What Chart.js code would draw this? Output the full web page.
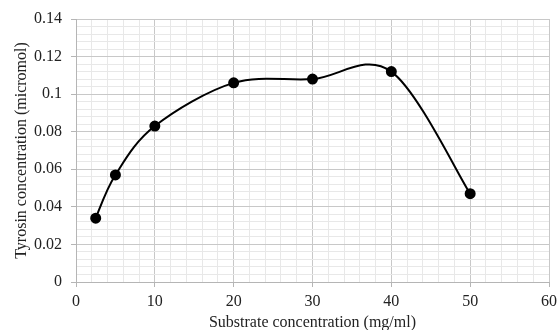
<!DOCTYPE html>
<html>
<head>
<meta charset="utf-8">
<script src="https://cdn.jsdelivr.net/npm/chart.js@4"></script>
<style>
  html, body { margin: 0; padding: 0; background: #fff; }
  #wrap { width: 559px; height: 330px; position: relative; }
</style>
</head>
<body>
<div id="wrap"><canvas id="grafico"></canvas></div>
<script>
// substrate (mg/ml) vs tyrosin (micromol)
const substrato = [2.5, 5, 10, 20, 30, 40, 50];
const tirosina = [0.034, 0.057, 0.083, 0.106, 0.108, 0.112, 0.047];

const pontos = substrato.map((x, i) => ({ x: x, y: tirosina[i] }));

const ehMaior = (v, passo) => Math.abs(v / passo - Math.round(v / passo)) < 1e-6;

const fonte = { family: '"Liberation Serif", "Times New Roman", serif', size: 16 };

// suavizacao parecida com a do excel (catmull-rom uniforme)
const suaviza = {
  id: 'suaviza',
  afterDatasetsUpdate(chart) {
    chart.getSortedVisibleDatasetMetas().forEach(meta => {
      const pts = meta.data;
      const n = pts.length;
      for (let i = 0; i < n; i++) {
        const p = pts[i];
        const ant = pts[Math.max(i - 1, 0)];
        const prox = pts[Math.min(i + 1, n - 1)];
        const tx = (prox.x - ant.x) / 6;
        const ty = (prox.y - ant.y) / 6;
        p.cp1x = p.x - tx; p.cp1y = p.y - ty;
        p.cp2x = p.x + tx; p.cp2y = p.y + ty;
      }
      meta.dataset._pointsUpdated = true;
    });
  }
};

const grafico = new Chart(document.getElementById('grafico'), {
  type: 'scatter',
  data: {
    datasets: [{
      label: 'Tyrosin',
      data: pontos,
      showLine: true,
      borderColor: '#000',
      backgroundColor: '#000',
      borderWidth: 2,
      pointRadius: 4.5,
      tension: 0.5
    }]
  },
  plugins: [suaviza],
  options: {
    responsive: true,
    maintainAspectRatio: false,
    animation: false,
    layout: { padding: { left: 0, top: 19, right: 10, bottom: 0 } },
    plugins: { legend: { display: false }, tooltip: { enabled: false } },
    scales: {
      x: {
        type: 'linear',
        min: 0, max: 60,
        afterFit: s => { s.height = 48; s.paddingLeft = 0; s.paddingRight = 0; },
        ticks: {
          stepSize: 2, autoSkip: false, maxRotation: 0, color: '#222', font: fonte, padding: 5,
          callback: v => ehMaior(v, 10) ? v : ''
        },
        grid: {
          color: c => ehMaior(c.tick.value, 10) ? '#c8c8c8' : '#e8e8e8',
          tickColor: c => ehMaior(c.tick.value, 10) ? '#b5b5b5' : 'rgba(0,0,0,0)',
          tickLength: 5
        },
        border: { color: '#b5b5b5' },
        title: { display: true, text: 'Substrate concentration (mg/ml)', color: '#222', font: fonte, padding: { top: 2, bottom: -2 } }
      },
      y: {
        min: 0, max: 0.14,
        afterFit: s => { s.width = 76; },
        ticks: {
          stepSize: 0.004, autoSkip: false, color: '#222', font: fonte, padding: 9,
          callback: v => ehMaior(v, 0.02) ? String(Math.round(v * 100) / 100) : ''
        },
        grid: {
          color: c => ehMaior(c.tick.value, 0.02) ? '#c8c8c8' : '#e8e8e8',
          tickColor: c => ehMaior(c.tick.value, 0.02) ? '#b5b5b5' : 'rgba(0,0,0,0)',
          tickLength: 5
        },
        border: { color: '#b5b5b5' },
        title: { display: true, text: 'Tyrosin concentration (micromol)', color: '#222', font: fonte, padding: { top: 12, bottom: 2 } }
      }
    }
  }
});
</script>
</body>
</html>
